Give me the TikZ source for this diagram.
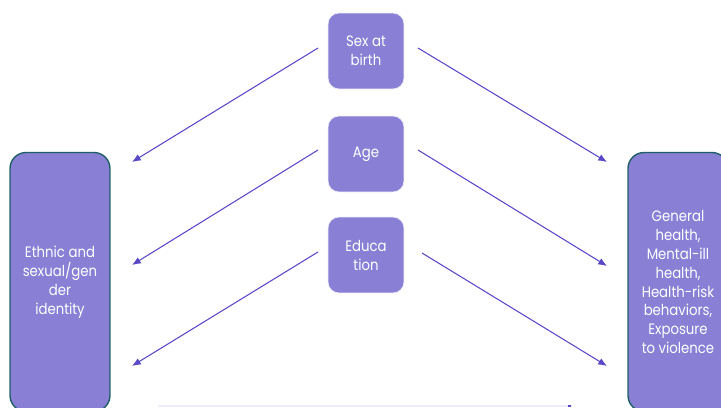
\documentclass[tikz,border=0pt]{standalone}
\usepackage{fontspec}
\setmainfont{Poppins}[FakeStretch=0.88]
\usetikzlibrary{arrows.meta}
\definecolor{boxfill}{RGB}{137,128,214}
\definecolor{boxedge}{RGB}{30,95,102}
\definecolor{arrowcol}{RGB}{88,72,200}
\definecolor{faintline}{RGB}{238,236,250}
\tikzset{
  factor/.style={draw=white!85!boxfill, fill=boxfill, rounded corners=0.22cm, text=white,
    minimum width=1.52cm, minimum height=1.52cm, align=center, inner sep=0pt},
  sidebox/.style={draw=boxedge, line width=0.8pt, fill=boxfill, rounded corners=0.32cm, text=white,
    minimum width=2cm, minimum height=5.18cm, align=center, inner sep=0pt},
  link/.style={draw=arrowcol, line width=0.6pt, -{Latex[length=5pt,width=4pt]}}
}
\begin{document}
\begin{tikzpicture}[x=0.02cm, y=-0.02cm, font=\fontsize{8.6}{10.8}\selectfont]
  \useasboundingbox (0, 0) rectangle (721, 408);
  \clip (0, 0) rectangle (721, 408);
  % side boxes
  \node[sidebox] (identity) at (60, 282) {Ethnic and\\sexual/gen\\der\\identity};
  \node[sidebox] (outcome) at (678, 282) {General\\health,\\Mental-ill\\health,\\Health-risk\\behaviors,\\Exposure\\to violence};
  % middle factors
  \node[factor] (sex) at (366, 51) {Sex at\\birth};
  \node[factor] (age) at (366, 154) {Age};
  \node[factor] (edu) at (366, 255) {Educa\\tion};
  % arrow ends
  \coordinate (sexL) at (318, 48);   \coordinate (sexLend) at (132, 162);
  \coordinate (ageL) at (318, 150);  \coordinate (ageLend) at (132, 265);
  \coordinate (eduL) at (318, 252);  \coordinate (eduLend) at (132, 366);
  \coordinate (sexR) at (418, 48);   \coordinate (sexRend) at (607, 162);
  \coordinate (ageR) at (418, 150);  \coordinate (ageRend) at (607, 266);
  \coordinate (eduR) at (422, 253);  \coordinate (eduRend) at (607, 366);
  \foreach \a in {sex, age, edu} {
    \draw[link] (\a L) -- (\a Lend);
    \draw[link] (\a R) -- (\a Rend);
  }
  % faint bottom link
  \coordinate (baseL) at (158, 406);
  \coordinate (baseR) at (572, 406);
  \draw[faintline, line width=0.6pt] (baseL) -- (baseR);
  \fill[arrowcol] (baseR) ++(-4, -1) rectangle ++(3, 2);
\end{tikzpicture}
\end{document}
